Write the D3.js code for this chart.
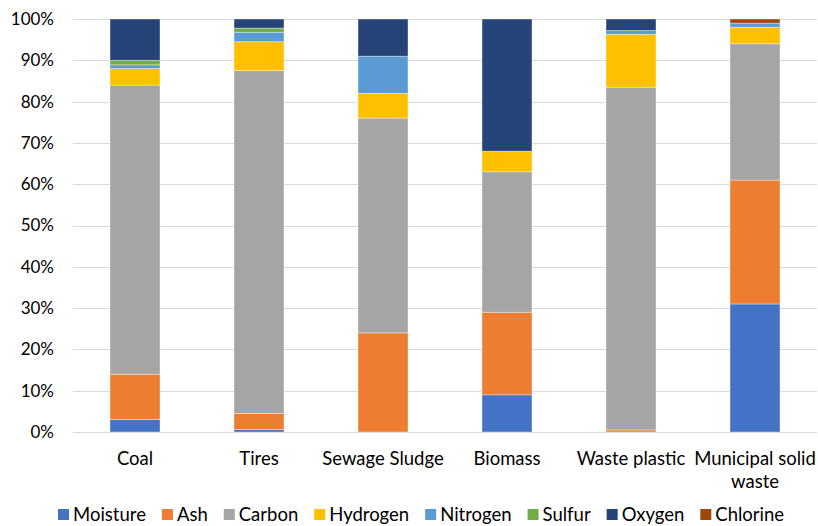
<!DOCTYPE html>
<html>
<head>
<meta charset="utf-8">
<script src="https://cdn.jsdelivr.net/npm/d3@7"></script>
<style>
  html, body { margin: 0; padding: 0; background: #fff; }
  svg { display: block; font-family: Lato, "Open Sans", sans-serif; }
</style>
</head>
<body>
<svg id="chart" width="818" height="526"></svg>
<script>
// Feedstocks and their composition (% by mass)
const categories = ["Coal", "Tires", "Sewage Sludge", "Biomass", "Waste plastic", "Municipal solid waste"];
const components = ["Moisture", "Ash", "Carbon", "Hydrogen", "Nitrogen", "Sulfur", "Oxygen", "Chlorine"];
const moisture = [3, 0.6, 0, 9, 0, 31];
const ash      = [11, 3.9, 24, 20, 0.5, 30];
const carbon   = [70, 83, 52, 34, 83, 33];
const hydrogen = [4, 7, 6, 5, 12.8, 4];
const nitrogen = [0.9, 2.3, 9, 0, 0.9, 1];
const sulfur   = [1.1, 1, 0, 0, 0, 0];
const oxygen   = [10, 2.2, 9, 32, 2.8, 0];
const chlorine = [0, 0, 0, 0, 0, 1];
const yTicks = [0, 10, 20, 30, 40, 50, 60, 70, 80, 90, 100];
const colors = ["#4472C4", "#ED7D31", "#A5A5A5", "#FFC000", "#5B9BD5", "#70AD47", "#264478", "#9E480E"];

const seriesValues = [moisture, ash, carbon, hydrogen, nitrogen, sulfur, oxygen, chlorine];
const rows = categories.map((c, i) => {
  const r = { category: c };
  components.forEach((k, j) => { r[k] = seriesValues[j][i]; });
  return r;
});

const svg = d3.select("#chart");
const margin = { left: 73, right: 1, top: 19, bottom: 94 };
const W = 818, H = 526;
const FONT = "Lato, 'Open Sans', sans-serif";

const x = d3.scaleBand().domain(categories)
  .range([margin.left, W - margin.right])
  .paddingInner(0.597).paddingOuter(0.2985);
const y = d3.scaleLinear().domain([0, 100]).range([H - margin.bottom, margin.top]);

// Gridlines
svg.append("g").selectAll("line").data(yTicks).join("line")
  .attr("x1", margin.left).attr("x2", W - margin.right)
  .attr("y1", d => Math.round(y(d)) + 0.5).attr("y2", d => Math.round(y(d)) + 0.5)
  .attr("stroke", "#d9d9d9").attr("stroke-width", 1);

// Y axis labels
const yAxis = d3.axisLeft(y).tickValues(yTicks).tickFormat(d => d + "%").tickSize(0).tickPadding(0);
const ya = svg.append("g").attr("transform", `translate(${margin.left - 19},0)`).call(yAxis);
ya.select(".domain").remove();
ya.selectAll("text").attr("font-size", 17).attr("fill", "#000").attr("font-family", FONT);

// Stacked bars
const stack = d3.stack().keys(components);
const layers = stack(rows);
svg.append("g").selectAll("g").data(layers).join("g")
  .attr("fill", (d, i) => colors[i])
  .selectAll("rect").data(d => d.filter(s => s[1] - s[0] > 0)).join("rect")
  .attr("x", d => x(d.data.category))
  .attr("width", x.bandwidth())
  .attr("y", d => y(d[1]))
  .attr("height", d => y(d[0]) - y(d[1]))
  .attr("stroke", "#ffffff").attr("stroke-opacity", 0.45).attr("stroke-width", 0.8);

// X axis labels (the last one wraps onto two lines)
const xAxis = d3.axisBottom(x).tickSize(0).tickPadding(0);
const xa = svg.append("g").attr("transform", `translate(0,${H - margin.bottom})`).call(xAxis);
xa.select(".domain").remove();
xa.selectAll(".tick text").each(function (d) {
  const t = d3.select(this);
  t.text(null).attr("font-size", 18.5).attr("fill", "#000").attr("y", 0).attr("dy", null)
    .attr("font-family", FONT);
  const lines = d === "Municipal solid waste" ? ["Municipal solid", "waste"] : [d];
  lines.forEach((ln, i) => {
    t.append("tspan").attr("x", 0).attr("y", 33 + i * 23).text(ln);
  });
});

// Legend along the bottom edge
const legend = svg.append("g").attr("font-size", 18.5).attr("fill", "#000").attr("font-family", FONT);
const items = legend.selectAll("g").data(components).join("g");
items.append("rect").attr("width", 11).attr("height", 11).attr("y", -12)
  .attr("fill", (d, i) => colors[i]);
items.append("text").attr("x", 15).attr("y", 0).text(d => d);
let cx = 0;
const gap = 16;
items.each(function () {
  const g = d3.select(this);
  const w = g.select("text").node().getComputedTextLength() + 15;
  g.attr("transform", `translate(${cx},0)`);
  cx += w + gap;
});
const total = cx - gap;
legend.attr("transform", `translate(${Math.round(421 - total / 2)},521)`);
</script>
</body>
</html>
